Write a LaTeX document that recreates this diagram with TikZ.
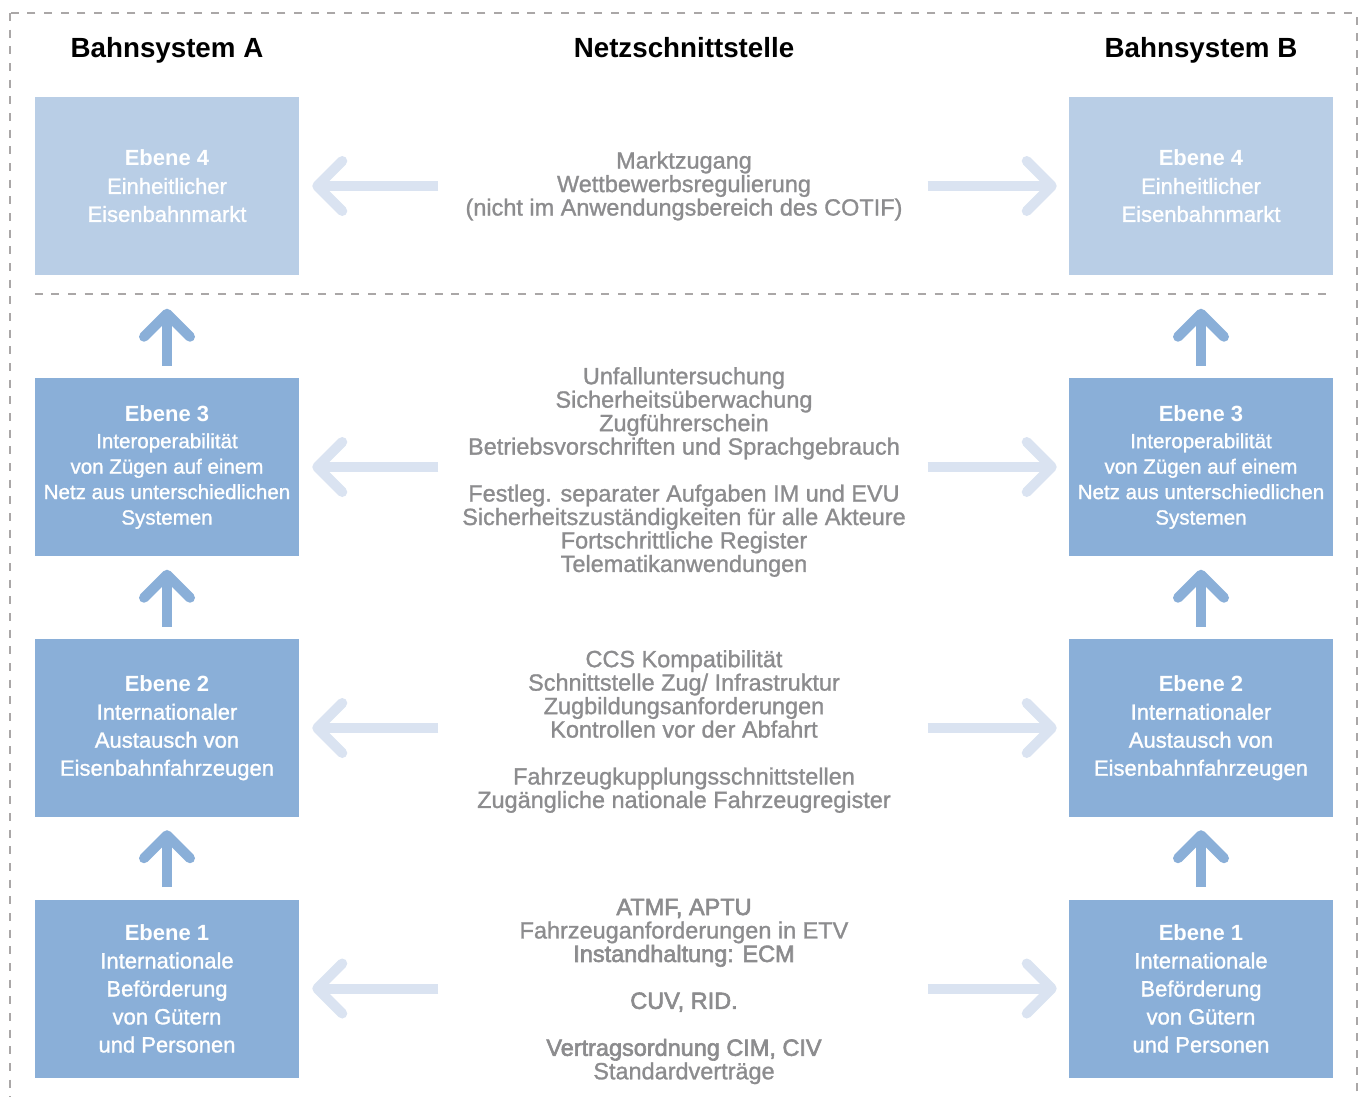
\documentclass[tikz,border=0pt]{standalone}
\usepackage{fontspec}
\setmainfont{Liberation Sans}
\newfontfamily\medfont[FakeBold=1.2]{Liberation Sans}
\newfontfamily\heavyfont[FakeBold=2.6]{Liberation Sans}
\usetikzlibrary{calc}
\definecolor{boxdark}{HTML}{8AAFD8}
\definecolor{boxlight}{HTML}{B9CEE6}
\definecolor{arrlight}{HTML}{DAE3F1}
\definecolor{midgray}{HTML}{8C8C8E}
\definecolor{dashgray}{HTML}{AAA7A7}
\newcommand\myUp[1]{%
  \draw[shaft,boxdark] ($(#1.north)+(0,-12)$) -- ($(#1.north)+(0,-64)$);
  \draw[head,boxdark] ($(#1.north)+(-23,-41)$) -- ($(#1.north)+(0,-64)$) -- ($(#1.north)+(23,-41)$);}
\newcommand\myLeft[1]{%
  \draw[shaft,arrlight] ($(#1.east)+(139,0)$) -- ($(#1.east)+(18,0)$);
  \draw[head,arrlight] ($(#1.east)+(43,-25)$) -- ($(#1.east)+(18,0)$) -- ($(#1.east)+(43,25)$);}
\newcommand\myRight[1]{%
  \draw[shaft,arrlight] ($(#1.west)+(-141,0)$) -- ($(#1.west)+(-17,0)$);
  \draw[head,arrlight] ($(#1.west)+(-42,-25)$) -- ($(#1.west)+(-17,0)$) -- ($(#1.west)+(-42,25)$);}
\newcommand\ebene[1]{{\rmfamily\bfseries\fontsize{16.5}{21}\selectfont Ebene #1}}
\begin{document}
\begin{tikzpicture}[x=0.75pt,y=-0.75pt,
  lvl/.style={fill=boxdark, text=white, minimum width=198pt, minimum height=133.5pt,
    inner sep=0pt, align=center, font=\fontsize{16.5}{21}\medfont},
  lvlfour/.style={lvl, fill=boxlight},
  lvlthree/.style={lvl, font=\fontsize{15.4}{19.1}\medfont},
  hdr/.style={font=\fontsize{20.8}{24}\selectfont\bfseries, text=black, anchor=base, inner sep=0pt},
  mid/.style={text=midgray, align=center, font=\fontsize{17.6}{17.6}\medfont, inner sep=0pt},
  border/.style={dashgray, line width=1.5pt, dash pattern=on 6pt off 6.5pt},
  shaft/.style={line width=7.5pt, line cap=butt},
  head/.style={line width=7.5pt, line cap=round, line join=round},
]
\useasboundingbox (0,0) rectangle (1365,1097);
\draw[border] (10,13) rectangle (1357,1112);

\node[hdr] (ha) at (167,57) {Bahnsystem A};
\node[hdr] (hn) at (684,57) {Netzschnittstelle};
\node[hdr] (hb) at (1201,57) {Bahnsystem B};

\node[lvlfour] (a4) at (167,186) {\ebene{4}\\Einheitlicher\\Eisenbahnmarkt};
\node[lvlthree] (a3) at (167,467) {\ebene{3}\\[1.15pt]Interoperabilität\\von Zügen auf einem\\Netz aus unterschiedlichen\\Systemen};
\node[lvl] (a2) at (167,728) {\ebene{2}\\Internationaler\\Austausch von\\Eisenbahnfahrzeugen};
\node[lvl] (a1) at (167,988.5) {\ebene{1}\\Internationale\\Beförderung\\von Gütern\\und Personen};

\node[lvlfour] (b4) at (1201,186) {\ebene{4}\\Einheitlicher\\Eisenbahnmarkt};
\node[lvlthree] (b3) at (1201,467) {\ebene{3}\\[1.15pt]Interoperabilität\\von Zügen auf einem\\Netz aus unterschiedlichen\\Systemen};
\node[lvl] (b2) at (1201,728) {\ebene{2}\\Internationaler\\Austausch von\\Eisenbahnfahrzeugen};
\node[lvl] (b1) at (1201,988.5) {\ebene{1}\\Internationale\\Beförderung\\von Gütern\\und Personen};

\draw[border] ($(a4.south west)+(0,19)$) -- ($(b4.south east)+(0,19)$);

\node[mid] (m4) at (684,186) {Marktzugang\\Wettbewerbsregulierung\\(nicht im Anwendungsbereich des COTIF)};
\node[mid] (m3) at (684,472) {Unfalluntersuchung\\Sicherheitsüberwachung\\Zugführerschein\\Betriebsvorschriften und Sprachgebrauch\\[17.6pt]Festleg. separater Aufgaben IM und EVU\\Sicherheitszuständigkeiten für alle Akteure\\Fortschrittliche Register\\Telematikanwendungen};
\node[mid] (m2) at (684,731.5) {CCS Kompatibilität\\Schnittstelle Zug/ Infrastruktur\\Zugbildungsanforderungen\\Kontrollen vor der Abfahrt\\[17.6pt]Fahrzeugkupplungsschnittstellen\\Zugängliche nationale Fahrzeugregister};
\node[mid] (m1) at (684,991.5) {{\heavyfont ATMF, APTU}\\Fahrzeuganforderungen in ETV\\{\heavyfont Instandhaltung: ECM}\\[17.6pt]{\heavyfont CUV, RID.}\\[17.6pt]{\heavyfont Vertragsordnung CIM, CIV}\\Standardverträge};

\myUp{a3}\myUp{a2}\myUp{a1}
\myUp{b3}\myUp{b2}\myUp{b1}
\myLeft{a4}\myLeft{a3}\myLeft{a2}\myLeft{a1}
\myRight{b4}\myRight{b3}\myRight{b2}\myRight{b1}
\end{tikzpicture}
\end{document}
